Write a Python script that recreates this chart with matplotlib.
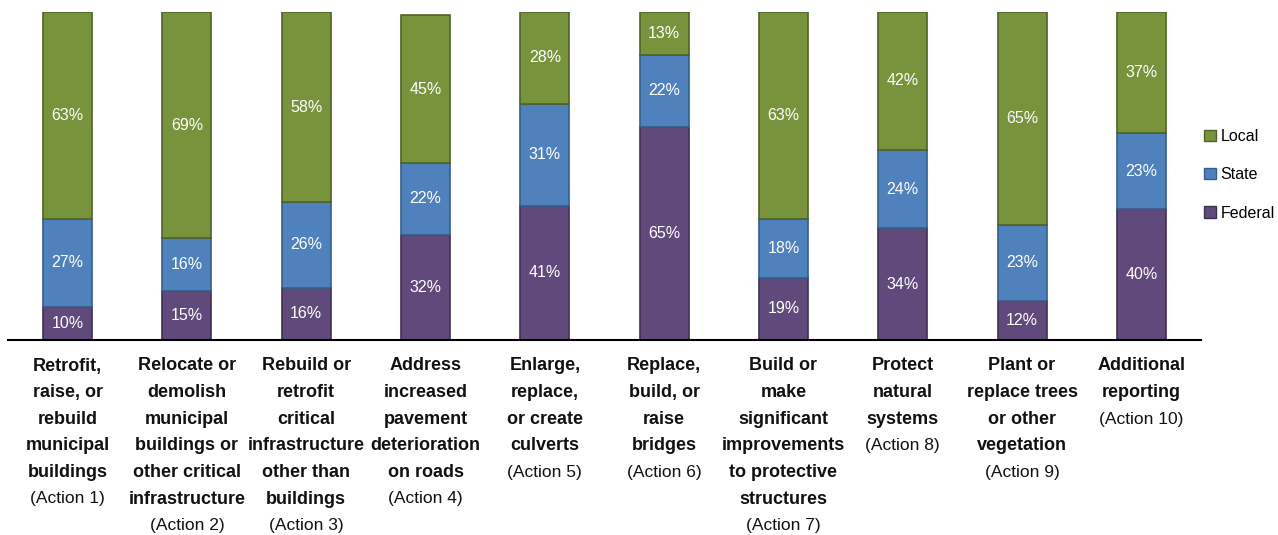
import matplotlib.pyplot as plt
from matplotlib import font_manager
from matplotlib.patches import Patch

# Share of funding by level of government for each action
categories = [
    ["Retrofit,", "raise, or", "rebuild", "municipal", "buildings"],
    ["Relocate or", "demolish", "municipal", "buildings or", "other critical", "infrastructure"],
    ["Rebuild or", "retrofit", "critical", "infrastructure", "other than", "buildings"],
    ["Address", "increased", "pavement", "deterioration", "on roads"],
    ["Enlarge,", "replace,", "or create", "culverts"],
    ["Replace,", "build, or", "raise", "bridges"],
    ["Build or", "make", "significant", "improvements", "to protective", "structures"],
    ["Protect", "natural", "systems"],
    ["Plant or", "replace trees", "or other", "vegetation"],
    ["Additional", "reporting"],
]
actions = ["(Action %d)" % i for i in range(1, 11)]

federal = [10, 15, 16, 32, 41, 65, 19, 34, 12, 40]
state = [27, 16, 26, 22, 31, 22, 18, 24, 23, 23]
local = [63, 69, 58, 45, 28, 13, 63, 42, 65, 37]

names = {f.name for f in font_manager.fontManager.ttflist}
font = "Liberation Sans Narrow" if "Liberation Sans Narrow" in names else "Liberation Sans"
plt.rcParams["font.family"] = [font, "DejaVu Sans"]

fig = plt.figure(figsize=(12.78, 5.35), dpi=100)
ax = fig.add_axes([8 / 1278, (535 - 340) / 535, (1201 - 8) / 1278, 328 / 535])

x = list(range(len(federal)))
w = 0.41
series = [
    ("Federal", federal, "#604A7B", "#3F3151"),
    ("State", state, "#4F81BD", "#385D8A"),
    ("Local", local, "#77933C", "#4F6228"),
]
bottom = [0] * len(x)
for name, vals, color, edge in series:
    ax.bar(x, vals, w, bottom=bottom, color=color, edgecolor=edge, linewidth=1.2, label=name)
    for i, v in enumerate(vals):
        ax.text(x[i], bottom[i] + v / 2, "%d%%" % v, ha="center", va="center",
                color="white", fontsize=11.5)
    bottom = [b + v for b, v in zip(bottom, vals)]

ax.set_xlim(-0.5, len(x) - 0.5)
ax.set_ylim(0, 100)
for s in ["top", "right", "left"]:
    ax.spines[s].set_visible(False)
ax.spines["bottom"].set_linewidth(1.5)
ax.set_xticks([])
ax.set_yticks([])

# category labels below the axis, bold text then the action number
trans = ax.get_xaxis_transform()
step = 26.6 / 328
for i, lines in enumerate(categories):
    y = -26 / 328
    for line in lines:
        ax.text(i, y, line, transform=trans, ha="center", va="center",
                fontsize=13, fontweight="bold", color="#111111")
        y -= step
    ax.text(i, y, actions[i], transform=trans, ha="center", va="center",
            fontsize=12.5, color="#111111")

handles = [Patch(facecolor=c, edgecolor=e, label=n) for n, _, c, e in reversed(series)]
fig.legend(handles=handles, loc="center left", bbox_to_anchor=(1198 / 1278, 1 - 175 / 535),
           frameon=False, fontsize=11.5, handlelength=0.7, handleheight=0.7,
           handletextpad=0.3, labelspacing=1.45, borderaxespad=0)

fig.savefig("out.png", dpi=100)
